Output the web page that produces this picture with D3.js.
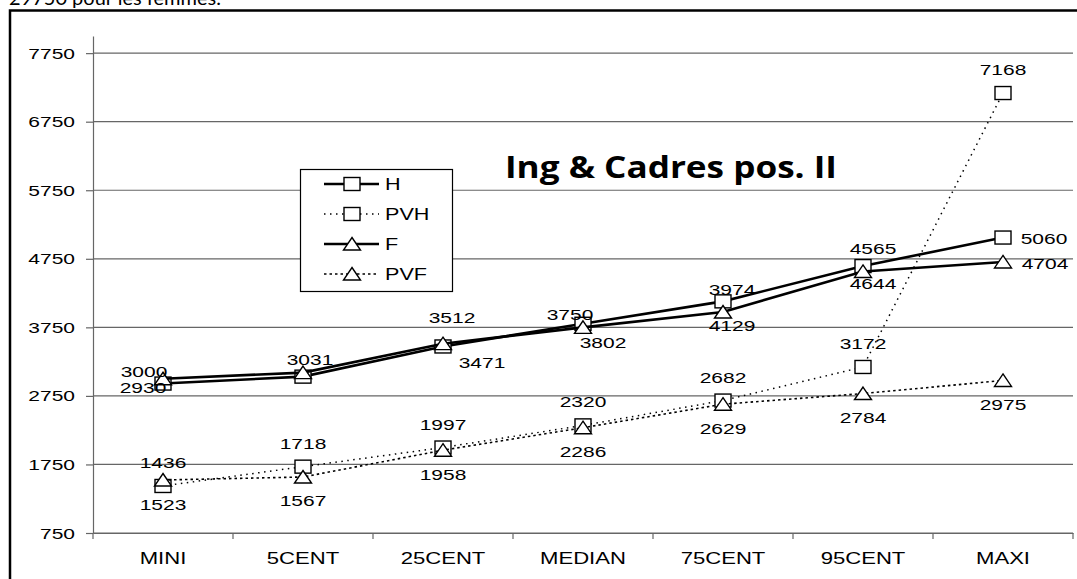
<!DOCTYPE html>
<html>
<head>
<meta charset="utf-8">
<script src="https://cdn.jsdelivr.net/npm/d3@7"></script>
<style>
  body { margin: 0; background: #fff; }
  svg { display: block; }
</style>
</head>
<body>
<script>
// salary distribution chart, Ing & Cadres pos. II
var categories = ['MINI', '5CENT', '25CENT', 'MEDIAN', '75CENT', '95CENT', 'MAXI'];
var hValues = [2930, 3031, 3471, 3802, 4129, 4644, 5060];
var pvhValues = [1436, 1718, 1997, 2320, 2682, 3172, 7168];
var fValues = [3000, 3090, 3512, 3750, 3974, 4565, 4704];
var pvfValues = [1523, 1567, 1958, 2286, 2629, 2784, 2975];
var yTicks = [750, 1750, 2750, 3750, 4750, 5750, 6750, 7750];
var seriesNames = ['H', 'PVH', 'F', 'PVF'];
var chartTitle = 'Ing & Cadres pos. II';

// label nudges (dx, dy from the point), null = label not shown
var hNudge = [[-20, 9], [7, -12], [39, 22], [20, 24], [9, 30], [10, 23], [41, 6]];
var fNudge = [[-19, -2], null, [9, -21], [-13, -7], [9, -17], [10, -17], [42, 7]];
var pvhNudge = categories.map(function () { return [0, -18]; });
var pvfNudge = categories.map(function () { return [0, 29.5]; });

var W = 1077, H = 579;
var FONT = '"Liberation Sans", Arial, sans-serif';
var SX = 1.4; // the pasted chart is stretched horizontally

var svg = d3.select('body').append('svg')
	.attr('width', W)
	.attr('height', H);

// text line cut by the top of the picture
svg.append('text')
	.attr('x', 9)
	.attr('y', 5)
	.text('29750 pour les femmes.')
	.style('font-family', 'Lato, "Open Sans", sans-serif')
	.style('font-size', '20px')
	.style('fill', '#000');

// chart frame (right and bottom edges fall outside)
svg.append('rect')
	.attr('x', 10)
	.attr('y', 10.5)
	.attr('width', W + 10)
	.attr('height', H + 10)
	.style('fill', 'none')
	.style('stroke', '#000')
	.style('stroke-width', 2.5);

var x = d3.scaleBand().domain(categories).range([93, 1073]);
var cx = function (c) { return x(c) + x.bandwidth() / 2; };
var y = d3.scaleLinear().domain([750, 8000]).range([533, 36]);

function stretched(g, px, py, str, size, anchor, sx) {
	return g.append('text')
		.attr('transform', 'translate(' + px + ',' + py + ') scale(' + (sx || SX) + ',1)')
		.attr('text-anchor', anchor || 'middle')
		.text(str)
		.style('font-family', FONT)
		.style('font-size', size + 'px')
		.style('fill', '#000');
}

// gridlines
svg.append('g').selectAll('line')
	.data(yTicks)
	.enter()
	.append('line')
	.attr('x1', 93)
	.attr('x2', 1073)
	.attr('y1', function (d) { return y(d); })
	.attr('y2', function (d) { return y(d); })
	.style('stroke', '#666')
	.style('stroke-width', 1.2);

// y axis
var yAxis = svg.append('g')
	.attr('transform', 'translate(93,0)')
	.call(d3.axisLeft(y).tickValues(yTicks).tickSize(7).tickSizeOuter(0));
yAxis.select('.domain').style('stroke', '#666').style('stroke-width', 1.2);
yAxis.selectAll('.tick line').style('stroke', '#666').style('stroke-width', 1.2);
yAxis.selectAll('.tick text').remove();
yAxis.selectAll('.tick').each(function (d) {
	stretched(d3.select(this), -18, 5, d, 15, 'end');
});

// x axis
var xAxis = svg.append('g')
	.attr('transform', 'translate(0,533)')
	.call(d3.axisBottom(x).tickSize(0).tickSizeOuter(0));
xAxis.select('.domain').style('stroke', '#666').style('stroke-width', 1.2);
xAxis.selectAll('.tick text').remove();
xAxis.selectAll('.tick').each(function (d) {
	stretched(d3.select(this), 0, 31, d, 16, 'middle', 1.38);
});
xAxis.selectAll('.bound')
	.data(categories.map(function (c) { return x(c); }).concat([x.range()[1]]))
	.enter()
	.append('line')
	.attr('x1', function (d) { return d; })
	.attr('x2', function (d) { return d; })
	.attr('y1', 0)
	.attr('y2', 6)
	.style('stroke', '#666')
	.style('stroke-width', 1.2);

// series setup
var series = [
	{ name: seriesNames[0], values: hValues, marker: 'square', dash: null, width: 2.6, nudge: hNudge },
	{ name: seriesNames[1], values: pvhValues, marker: 'square', dash: '1.5,4.5', width: 1.5, nudge: pvhNudge },
	{ name: seriesNames[2], values: fValues, marker: 'triangle', dash: null, width: 2.6, nudge: fNudge },
	{ name: seriesNames[3], values: pvfValues, marker: 'triangle', dash: '2.5,3', width: 1.6, nudge: pvfNudge }
];

function drawMarker(g, kind, px, py) {
	if (kind === 'square') {
		g.append('rect')
			.attr('x', px - 8)
			.attr('y', py - 6.5)
			.attr('width', 16)
			.attr('height', 13)
			.style('fill', '#fff')
			.style('stroke', '#000')
			.style('stroke-width', 1.4);
	} else {
		g.append('path')
			.attr('d', 'M' + px + ',' + (py - 6.5) + 'L' + (px + 8.5) + ',' + (py + 6) + 'L' + (px - 8.5) + ',' + (py + 6) + 'Z')
			.style('fill', '#fff')
			.style('stroke', '#000')
			.style('stroke-width', 1.4);
	}
}

var line = d3.line()
	.x(function (d, i) { return cx(categories[i]); })
	.y(function (d) { return y(d); });

var plot = svg.append('g');
series.forEach(function (s) {
	var g = plot.append('g');
	g.append('path')
		.datum(s.values)
		.attr('d', line)
		.style('fill', 'none')
		.style('stroke', '#000')
		.style('stroke-width', s.width)
		.style('stroke-dasharray', s.dash);
	s.values.forEach(function (v, i) {
		drawMarker(g, s.marker, cx(categories[i]), y(v));
	});
});

// data labels
var labels = svg.append('g');
series.forEach(function (s) {
	s.values.forEach(function (v, i) {
		var n = s.nudge[i];
		if (!n) return;
		stretched(labels, cx(categories[i]) + n[0], y(v) + n[1], v, 15, 'middle');
	});
});

// legend
var legend = svg.append('g');
legend.append('rect')
	.attr('x', 300.5)
	.attr('y', 169.5)
	.attr('width', 152)
	.attr('height', 122)
	.style('fill', '#fff')
	.style('stroke', '#000')
	.style('stroke-width', 1.2);
var legendY = d3.scalePoint().domain(seriesNames).range([184, 274]);
series.forEach(function (s) {
	var ly = legendY(s.name);
	legend.append('line')
		.attr('x1', 324)
		.attr('x2', 379)
		.attr('y1', ly)
		.attr('y2', ly)
		.style('stroke', '#000')
		.style('stroke-width', s.width)
		.style('stroke-dasharray', s.dash);
	drawMarker(legend, s.marker, 352, ly);
	stretched(legend, 385, ly + 6, s.name, 16, 'start', 1.35);
});

// title
svg.append('text')
	.attr('x', 505)
	.attr('y', 178)
	.attr('textLength', 332)
	.attr('lengthAdjust', 'spacingAndGlyphs')
	.text(chartTitle)
	.style('font-family', '"Open Sans", Lato, sans-serif')
	.style('font-weight', 'bold')
	.style('font-size', '30px')
	.style('fill', '#000');
</script>
</body>
</html>
